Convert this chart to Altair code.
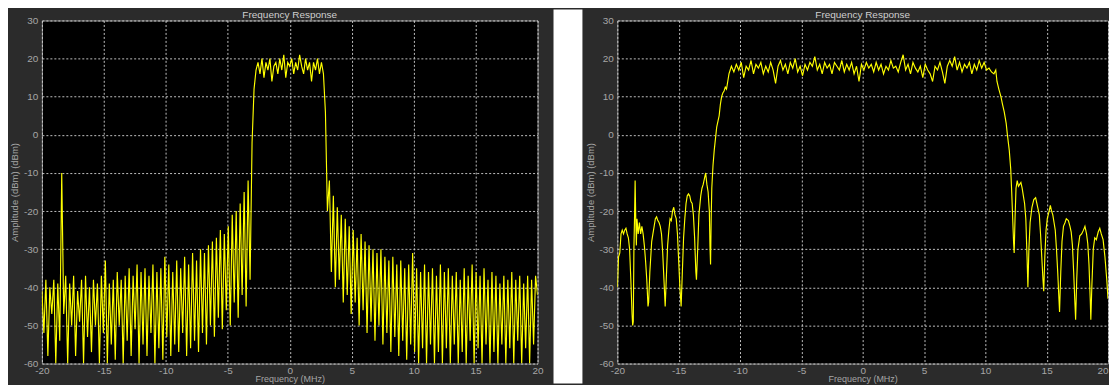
import altair as alt
import pandas as pd

# ---------------- axis ticks / texts ----------------
x_ticks = [-20, -15, -10, -5, 0, 5, 10, 15, 20]
y_ticks = [-60, -50, -40, -30, -20, -10, 0, 10, 20, 30]
panel_title = "Frequency Response"
x_title = "Frequency (MHz)"
y_title = "Amplitude (dBm) (dBm)"

# ---------------- left panel (sampled every 0.16 MHz from -20 MHz) ----------------
LEFT_STEP = 0.16
left_low_peaks = [-41, -38, -40, -38, -39, -10, -37, -39, -37, -41, -38, -37, -40, -38, -39, -37,
                  -33, -39, -38, -36, -38, -37, -35, -37, -34, -36, -35, -37, -34, -36, -35, -32,
                  -34, -36, -33, -35, -32, -34, -31, -33, -30, -31, -29, -28, -27, -25, -26, -24,
                  -21, -20, -18, -15, -12]
left_low_nulls = [-52, -58, -47, -60, -54, -47, -60, -50, -58, -49, -60, -53, -57, -50, -60, -52,
                  -60, -55, -59, -50, -60, -54, -58, -51, -60, -55, -58, -52, -60, -56, -59, -53,
                  -58, -55, -57, -52, -58, -56, -54, -57, -52, -55, -50, -53, -48, -51, -46, -50,
                  -44, -48, -42, -45, -38]
left_pass = [-2, 12, 17, 19, 16, 20, 15, 19, 17, 20, 14, 18, 19, 16, 20, 17, 21, 15, 19, 18,
             20, 16, 19, 17, 21, 18, 16, 20, 17, 19, 14, 19, 17, 20, 16, 19, 16, 6, -20]
left_high_peaks = [-12, -16, -19, -21, -22, -24, -25, -27, -26, -28, -29, -30, -31, -30, -32, -33,
                   -32, -34, -33, -35, -34, -31, -35, -36, -34, -36, -35, -37, -34, -36, -35, -37,
                   -36, -38, -35, -37, -34, -36, -37, -35, -38, -36, -37, -39, -37, -38, -36, -38,
                   -37, -39, -37, -38, -37]
left_high_nulls = [-36, -40, -38, -44, -42, -47, -44, -50, -46, -52, -49, -54, -50, -55, -52, -57,
                   -53, -58, -54, -59, -55, -57, -60, -56, -60, -55, -60, -57, -60, -56, -60, -55,
                   -60, -57, -60, -54, -60, -56, -60, -55, -60, -57, -60, -55, -60, -56, -60, -54,
                   -60, -56, -60, -55, -42]

# ---------------- right panel ----------------
right_lo_f = [-20.0, -19.9, -19.8, -19.7, -19.6, -19.5, -19.4, -19.3, -19.2, -19.1, -19.0, -18.9,
              -18.8, -18.75, -18.7, -18.65, -18.6, -18.55, -18.5, -18.45, -18.4, -18.3, -18.2,
              -18.1, -18.0, -17.9, -17.8, -17.7, -17.6, -17.5, -17.45, -17.35, -17.2, -17.1,
              -17.0, -16.9, -16.8, -16.7, -16.6, -16.5, -16.4, -16.3, -16.2, -16.1, -16.0, -15.9,
              -15.8, -15.7, -15.6, -15.5, -15.4, -15.3, -15.2, -15.1, -15.0, -14.9, -14.8, -14.7,
              -14.6, -14.5, -14.4, -14.3, -14.2, -14.1, -14.0, -13.9, -13.8, -13.7, -13.6, -13.55,
              -13.45, -13.35, -13.2, -13.1, -13.0, -12.9, -12.8, -12.7, -12.6, -12.5, -12.45,
              -12.4, -12.35, -12.3, -12.2, -12.1, -12.0, -11.9, -11.8, -11.7, -11.6, -11.5, -11.4,
              -11.3, -11.2, -11.1, -11.0, -10.9, -10.8]
right_lo_a = [-40, -32, -31, -26, -25, -26, -25, -24.5, -26, -27, -30, -38, -47, -50, -49, -30,
              -22, -12, -22, -29, -22, -26, -23, -26, -24, -26, -29, -33, -38, -45, -44, -36, -28,
              -26, -24, -22, -21.5, -22.5, -23, -24, -26, -31, -38, -45, -37, -29, -25, -22, -22.5,
              -20, -19, -21, -22, -26, -33, -40, -45, -36, -27, -22, -18, -16, -15.5, -16, -17.5,
              -18, -21, -27, -36, -38, -30, -21, -16, -14, -13, -11.5, -10, -13, -15, -20, -29,
              -34, -22, -14, -8, -4, -1, 2, 3.5, 5, 8, 10, 11, 11.5, 12.5, 12, 14, 16, 17]
# passband sampled every 0.2 MHz from -10.7 MHz
RIGHT_PASS_START = -10.7
RIGHT_PASS_STEP = 0.2
right_pass = [18, 16.5, 18.5, 17, 19, 15, 18, 17, 19.5, 16,
              18.5, 17.5, 19, 16, 18, 16.5, 19, 17, 13.5, 18,
              19.5, 17, 18.5, 16, 19, 17.5, 20, 16.5, 18, 15.5,
              18.5, 17, 19, 18, 20.5, 17, 18.5, 16, 19, 17.5,
              18.5, 16, 19, 18, 17, 19.5, 16.5, 18.5, 17, 19,
              16, 18, 14, 18.5, 17, 19, 17.5, 18.5, 16.5, 19,
              17, 18.5, 16, 18, 17, 19.5, 17.5, 18, 16.5, 19,
              21, 17, 18.5, 16, 19, 17.5, 16.5, 18, 15, 18.5,
              17, 16, 14, 18, 17, 19, 16.5, 13.5, 18, 19.5,
              18, 20.5, 17, 19, 16.5, 18.5, 17.5, 19, 16, 18.5,
              17, 19.5, 17.5, 19, 17]
right_hi_f = [10.3, 10.5, 10.7, 10.85, 10.95, 11.1, 11.27, 11.4, 11.54, 11.7, 11.8, 11.95, 12.07,
              12.15, 12.22, 12.3, 12.35, 12.42, 12.5, 12.6, 12.7, 12.8, 12.9, 13.0, 13.1, 13.2,
              13.3, 13.4, 13.47, 13.55, 13.65, 13.8, 13.95, 14.1, 14.2, 14.3, 14.4, 14.5, 14.6,
              14.7, 14.76, 14.85, 14.95, 15.05, 15.2, 15.3, 15.4, 15.5, 15.6, 15.7, 15.8, 15.9,
              16.0, 16.05, 16.15, 16.25, 16.37, 16.5, 16.6, 16.77, 16.9, 17.0, 17.1, 17.2, 17.3,
              17.36, 17.45, 17.55, 17.7, 17.85, 18.0, 18.12, 18.25, 18.35, 18.45, 18.55, 18.6,
              18.68, 18.8, 18.92, 19.05, 19.2, 19.33, 19.45, 19.6, 19.75, 19.9, 20.0]
right_hi_a = [17.5, 16.5, 16, 17, 14, 12, 10, 8, 6, 3, 0, -4, -9, -15, -21, -28, -31, -22, -14,
              -12, -13.5, -13, -12.5, -14, -16, -18, -22, -32, -40, -30, -23, -19, -17, -16.5, -18,
              -19.5, -21, -26, -32, -38, -41, -32, -25, -22, -20, -18.5, -20, -21, -23, -25, -30,
              -36, -43, -46.5, -36, -28, -24, -23, -22, -22.5, -24, -25.5, -29, -36, -44, -48.5,
              -38, -30, -26.5, -26, -25, -24, -26, -28.5, -34, -43, -48.5, -40, -30, -27, -27.5,
              -25.5, -24.5, -26, -27.5, -32, -38, -43]


def interleave(peaks, nulls):
    out = []
    for p, n in zip(peaks, nulls):
        out += [p, n]
    return out


left_amp = (interleave(left_low_peaks, left_low_nulls) + left_pass
            + interleave(left_high_peaks, left_high_nulls))
left_freq = [round(-20 + LEFT_STEP * i, 2) for i in range(len(left_amp))]
left_df = pd.DataFrame({"f": left_freq, "a": left_amp, "i": list(range(len(left_amp)))})

right_pass_f = [round(RIGHT_PASS_START + RIGHT_PASS_STEP * i, 2) for i in range(len(right_pass))]
right_freq = right_lo_f + right_pass_f + right_hi_f
right_amp = right_lo_a + right_pass + right_hi_a
right_df = pd.DataFrame({"f": right_freq, "a": right_amp, "i": list(range(len(right_amp)))})

title_df = pd.DataFrame({"t": [panel_title]})
one_df = pd.DataFrame({"k": [0]})

# ---------------- styling ----------------
YELLOW = "#ffff00"
LABEL = "#a6a6a6"
GRID = "#d4d4d4"
LEFT_W, RIGHT_W, H = 497, 492, 344


def x_axis(last_right=False):
    align = "center"
    if last_right:
        align = {"condition": {"test": "datum.value == 20", "value": "right"}, "value": "center"}
    return alt.Axis(values=x_ticks, title=x_title, labelExpr="'' + datum.value",
                    labelColor=LABEL, labelFontSize=10, labelPadding=2, labelFlush=False,
                    labelAlign=align, labelOverlap=False, titleColor=LABEL, titleFontSize=9,
                    titleFontWeight="normal", titlePadding=-1, grid=True, ticks=False,
                    domain=False, gridColor=GRID, gridDash=[2, 2], gridOpacity=0.9, gridWidth=1)


def y_axis():
    return alt.Axis(values=y_ticks, title=y_title, labelExpr="'' + datum.value",
                    labelColor=LABEL, labelFontSize=10, labelPadding=4, labelFlush=False,
                    labelOverlap=False, titleColor=LABEL, titleFontSize=9.5,
                    titleFontWeight="normal", titleX=-27, titleBaseline="middle",
                    grid=True, ticks=False, domain=False, gridColor=GRID, gridDash=[2, 2],
                    gridOpacity=0.9, gridWidth=1)


def line_chart(df, last_right=False):
    return alt.Chart(df).mark_line(color=YELLOW, strokeWidth=1.15, clip=True).encode(
        x=alt.X("f:Q", scale=alt.Scale(domain=[-20, 20], nice=False, zero=False),
                axis=x_axis(last_right)),
        y=alt.Y("a:Q", scale=alt.Scale(domain=[-60, 30], nice=False, zero=False), axis=y_axis()),
        order="i:Q",
    )


def title_text(width):
    return alt.Chart(title_df).mark_text(fontSize=10, color="#cfcfcf", align="center",
                                         baseline="middle").encode(
        text="t:N", x=alt.value(width / 2), y=alt.value(-5.5))


# invisible spacer in the left panel so both panels start at the same height
spacer = alt.Chart(one_df).mark_rect(opacity=0).encode(
    x=alt.value(0), x2=alt.value(1), y=alt.value(-11), y2=alt.value(0))
# white gap between the two dark panels
gap = alt.Chart(one_df).mark_rect(color="#ffffff").encode(
    x=alt.value(-64), x2=alt.value(-35), y=alt.value(-11), y2=alt.value(364))

left = alt.layer(spacer, line_chart(left_df), title_text(LEFT_W)).properties(
    width=LEFT_W, height=H)
right = alt.layer(gap, line_chart(right_df, last_right=True),
                  title_text(RIGHT_W)).properties(width=RIGHT_W, height=H)

chart = alt.hconcat(left, right, spacing=8).configure(
    background="#2b2b2b",
    padding={"left": 1, "top": 0, "right": 0, "bottom": 0},
    font="Liberation Sans",
).configure_view(fill="#000000", stroke="#8c8c8c", strokeWidth=1)

chart.save("out.html", embed_options={"renderer": "svg", "actions": False})
